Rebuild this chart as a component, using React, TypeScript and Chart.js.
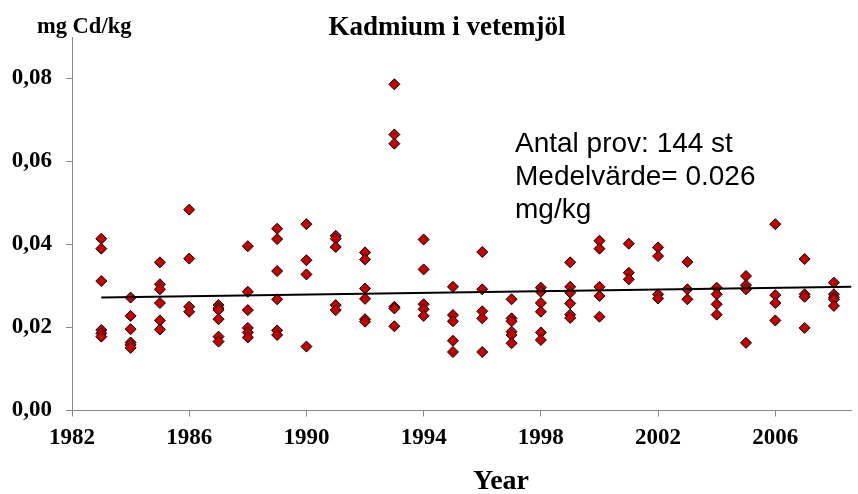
import React, { useEffect, useRef } from "react";
import { Chart, registerables } from "chart.js";

Chart.register(...registerables);

const years = [1983, 1984, 1985, 1986, 1987, 1988, 1989, 1990, 1991, 1992, 1993, 1994, 1995, 1996, 1997, 1998, 1999, 2000, 2001, 2002, 2003, 2004, 2005, 2006, 2007, 2008];

const valuesByYear = [
  [0.0414, 0.039, 0.0312, 0.0194, 0.0186, 0.0178],
  [0.0272, 0.0228, 0.0196, 0.0164, 0.0158, 0.0151],
  [0.0357, 0.0304, 0.0292, 0.0259, 0.0217, 0.0195],
  [0.0484, 0.0366, 0.025, 0.0238],
  [0.0254, 0.0247, 0.0242, 0.022, 0.0178, 0.0166],
  [0.0396, 0.0286, 0.0242, 0.0199, 0.0188, 0.0176],
  [0.0438, 0.0413, 0.0336, 0.0268, 0.0193, 0.0182],
  [0.0449, 0.0362, 0.0328, 0.0154],
  [0.0421, 0.0414, 0.0394, 0.0254, 0.0242],
  [0.0381, 0.0364, 0.0294, 0.0269, 0.022, 0.0214],
  [0.0786, 0.0665, 0.0643, 0.025, 0.0246, 0.0203],
  [0.0412, 0.034, 0.0256, 0.0244, 0.0228],
  [0.0298, 0.023, 0.0215, 0.0168, 0.0141],
  [0.0382, 0.0292, 0.0239, 0.0222, 0.0141],
  [0.0268, 0.0222, 0.0215, 0.019, 0.0182, 0.0162],
  [0.0296, 0.0286, 0.0259, 0.0238, 0.0188, 0.017],
  [0.0357, 0.0298, 0.0284, 0.0258, 0.0231, 0.0223],
  [0.0409, 0.039, 0.0298, 0.0276, 0.0226],
  [0.0402, 0.0332, 0.0316],
  [0.0393, 0.0372, 0.028, 0.027],
  [0.0358, 0.0292, 0.0268],
  [0.0296, 0.028, 0.0256, 0.0231],
  [0.0324, 0.0302, 0.0292, 0.0163],
  [0.0449, 0.0278, 0.0259, 0.0217],
  [0.0365, 0.028, 0.0274, 0.0199],
  [0.0308, 0.028, 0.0272, 0.0268, 0.0252],
];

const trendYears = [1983, 2008.6];
const trendValues = [0.0272, 0.0298];

const xTicks = [1982, 1986, 1990, 1994, 1998, 2002, 2006];
const yTicks = [0, 0.02, 0.04, 0.06, 0.08];

const chartTitle = "Kadmium i vetemjöl";
const yUnitLabel = "mg Cd/kg";
const xAxisLabel = "Year";
const noteLines = ["Antal prov: 144 st", "Medelvärde= 0.026", "mg/kg"];

const SERIF = "'Liberation Serif', 'Times New Roman', serif";
const SANS = "'Liberation Sans', Arial, sans-serif";

export default function App() {
  const ref = useRef<HTMLCanvasElement | null>(null);

  useEffect(() => {
    const canvas = ref.current;
    if (!canvas) return;

    const points: { x: number; y: number }[] = [];
    years.forEach((yr, i) => {
      valuesByYear[i].forEach((v) => points.push({ x: yr, y: v }));
    });
    const trend = trendYears.map((x, i) => ({ x, y: trendValues[i] }));

    const textPlugin = {
      id: "texts",
      afterDraw(chart: any) {
        const ctx = chart.ctx;
        ctx.save();
        ctx.fillStyle = "#000";
        ctx.textBaseline = "alphabetic";
        ctx.textAlign = "center";
        ctx.font = `bold 27px ${SERIF}`;
        ctx.fillText(chartTitle, 447, 35);
        ctx.textAlign = "left";
        ctx.font = `bold 22.5px ${SERIF}`;
        ctx.fillText(yUnitLabel, 37, 33);
        ctx.textAlign = "center";
        ctx.font = `bold 28px ${SERIF}`;
        ctx.fillText(xAxisLabel, 501, 489);
        ctx.textAlign = "left";
        ctx.font = `28px ${SANS}`;
        noteLines.forEach((t, i) => ctx.fillText(t, 515, 152 + i * 33));
        ctx.restore();
      },
    };

    const chart = new Chart(canvas, {
      type: "scatter",
      data: {
        datasets: [
          {
            label: "Cd",
            data: points,
            pointStyle: "rectRot",
            pointRadius: 5.5,
            pointBackgroundColor: "#C80000",
            pointBorderColor: "#000",
            pointBorderWidth: 1,
            showLine: false,
            order: 2,
          },
          {
            type: "line",
            label: "Trend",
            data: trend,
            borderColor: "#000",
            borderWidth: 2,
            pointRadius: 0,
            showLine: true,
            fill: false,
            order: 1,
          } as any,
        ],
      },
      options: {
        responsive: false,
        animation: false,
        layout: { padding: { top: 37, right: 0, left: 0, bottom: 0 } },
        plugins: {
          legend: { display: false },
          title: { display: false },
          tooltip: { enabled: false },
        },
        scales: {
          x: {
            type: "linear",
            min: 1982,
            max: 2008.6,
            afterFit: (s: any) => {
              s.height = 83.5;
            },
            afterBuildTicks: (s: any) => {
              s.ticks = xTicks.map((v) => ({ value: v }));
            },
            border: { display: true, color: "#888", width: 1 },
            grid: { drawOnChartArea: false, drawTicks: true, tickLength: 6, color: "#888" },
            ticks: {
              color: "#000",
              padding: 8,
              maxRotation: 0,
              autoSkip: false,
              font: { family: SERIF, size: 23, weight: "bold" },
              callback: (v: any) => String(v),
            },
          },
          y: {
            type: "linear",
            min: 0,
            max: 0.09,
            afterFit: (s: any) => {
              s.width = 72;
            },
            afterBuildTicks: (s: any) => {
              s.ticks = yTicks.map((v) => ({ value: v }));
            },
            border: { display: true, color: "#888", width: 1 },
            grid: { drawOnChartArea: false, drawTicks: true, tickLength: 6, color: "#888" },
            ticks: {
              color: "#000",
              padding: 14,
              font: { family: SERIF, size: 23, weight: "bold" },
              callback: (v: any) => Number(v).toFixed(2).replace(".", ","),
            },
          },
        },
      },
      plugins: [textPlugin],
    });

    return () => chart.destroy();
  }, []);

  return (
    <div style={{ position: "fixed", left: 0, top: 0, width: 858, height: 494, background: "#fff" }}>
      <canvas ref={ref} width={858} height={494} style={{ display: "block" }} />
    </div>
  );
}
